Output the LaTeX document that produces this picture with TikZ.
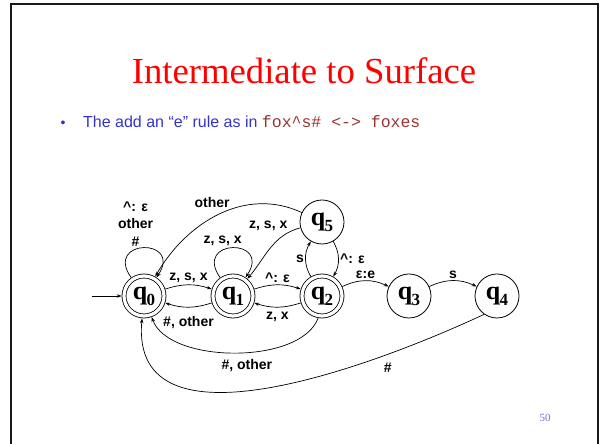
\documentclass[tikz,border=0pt]{standalone}
\usepackage{fontspec}
\setmainfont{Liberation Serif}
\setsansfont{Liberation Sans}
\setmonofont{Liberation Mono}
\usetikzlibrary{positioning,arrows.meta}
\definecolor{titlered}{RGB}{255,0,0}
\definecolor{bulletblue}{RGB}{51,51,204}
\definecolor{codered}{RGB}{153,51,51}
\definecolor{pageblue}{RGB}{110,110,240}
\newcommand{\qst}[1]{q\kern-0.5pt\raisebox{-6pt}{\fontsize{17}{17}\selectfont #1}}

\begin{document}
\begin{tikzpicture}[x=1pt, y=1pt,
  st/.style={circle, draw, line width=0.8pt, minimum size=44pt, inner sep=0pt,
    font=\fontsize{26}{26}\selectfont\bfseries},
  acc/.style={st, minimum size=40pt, double, double distance=3.2pt, outer sep=2.4pt},
  arr/.style={-{Stealth[length=5pt, width=3.5pt]}, line width=0.7pt},
  lab/.style={font=\fontsize{14}{17.5}\selectfont\sffamily\bfseries, inner sep=1.5pt},
]
\useasboundingbox (0,0) rectangle (600,444);
% slide frame
\draw[line width=2.2pt, black!90] (11,-10) rectangle (598,440);
% heading and bullet
\node[font=\fontsize{36.7}{40}\selectfont, text=titlered, anchor=base] (title) at (304,360) {Intermediate to Surface};
\node[font=\fontsize{14}{14}\selectfont\sffamily, text=bulletblue, anchor=base] (dot) at (63,316) {•};
\node[font=\fontsize{16}{18}\selectfont\sffamily, text=bulletblue, anchor=base west, inner sep=0pt] (rule) at (83,316)
  {The add an “e” rule as in \textcolor{codered}{\fontsize{16.5}{18}\selectfont\ttfamily fox\textasciicircum s\# <-> foxes}};
\node[font=\fontsize{11}{11}\selectfont, text=pageblue] (page) at (545,26) {50};
% states
\node[acc] (q0) at (144,148) {\qst{0}};
\node[acc] (q1) at (233,148) {\qst{1}};
\node[acc] (q2) at (322,148) {\qst{2}};
\node[st] (q5) at (322,222) {\qst{5}};
\node[st] (q3) at (409,148) {\qst{3}};
\node[st] (q4) at (497,148) {\qst{4}};
\coordinate (start) at (92,148);
% transitions
\draw[arr] (start) -- (q0);
\draw[arr] (q0.125) .. controls +(125:48) and +(56:48) .. (q0.56)
  node[lab, pos=0.5, anchor=south, xshift=-8pt, align=center] {\textasciicircum: ε\\other\\\#};
\draw[arr] (q1.125) .. controls +(125:48) and +(56:48) .. (q1.56)
  node[lab, pos=0.5, anchor=south, xshift=-10pt] {z, s, x};
\draw[arr] (q0) to[bend left=18] node[lab, above] {z, s, x} (q1);
\draw[arr] (q1) to[bend left=18] node[lab, below=7pt] {\#, other} (q0);
\draw[arr] (q1) to[bend left=18] node[lab, above] {\textasciicircum: ε} (q2);
\draw[arr] (q2) to[bend left=18] node[lab, below=3pt] {z, x} (q1);
\draw[arr] (q2) to[bend left=30] node[lab, left] {s} (q5);
\draw[arr] (q5) to[bend left=30] node[lab, right] {\textasciicircum: ε} (q2);
\draw[arr] (q5) to[out=195, in=50] node[lab, pos=0.15, anchor=south east] {z, s, x} (q1);
\draw[arr] (q5) to[out=155, in=60] node[lab, pos=0.42, anchor=south east] {other} (q0);
\draw[arr] (q2) to[bend left=25] node[lab, above] {ε:e} (q3);
\draw[arr] (q3) to[bend left=25] node[lab, above] {s} (q4);
\draw[arr] (q2.260) .. controls +(250:50) and +(290:50) .. (q0.290)
  node[lab, pos=0.5, below=5pt, xshift=12pt] {\#, other};
\draw[arr] (q4.235) .. controls +(205:120) and +(265:140) .. (q0.265)
  node[lab, pos=0.24, below=7pt] {\#};
\end{tikzpicture}
\end{document}
